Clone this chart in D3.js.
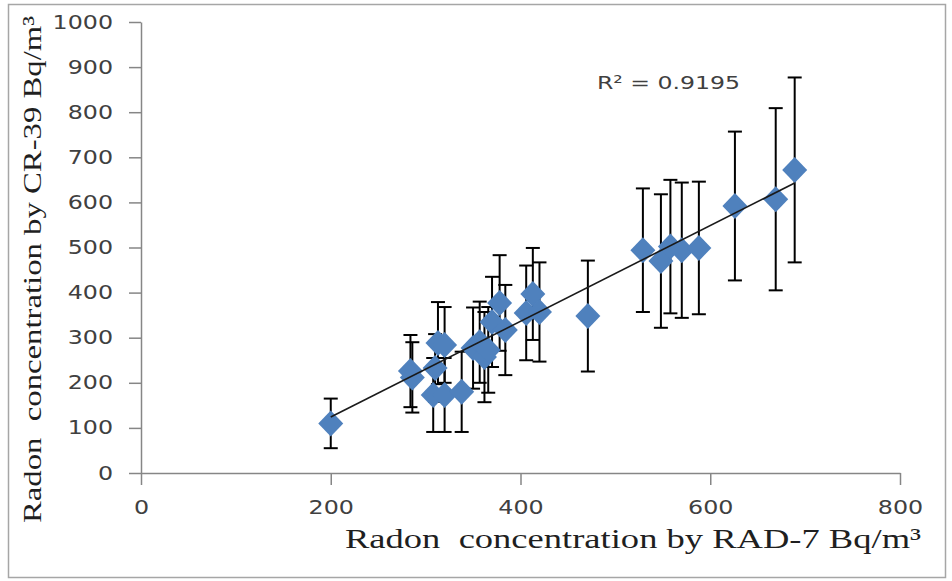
<!DOCTYPE html>
<html>
<head>
<meta charset="utf-8">
<script src="https://cdn.jsdelivr.net/npm/d3@7"></script>
<style>
  html, body { margin: 0; padding: 0; background: #ffffff; }
  svg { display: block; }
  .title { white-space: pre; }
</style>
</head>
<body>
<svg id="chart" width="952" height="581"></svg>
<script>
// ---- data ----
const rad7 = [200, 284, 286, 308, 310, 313, 320, 320, 338, 350, 357, 362, 366, 370, 378, 384, 406, 413, 420, 471, 529, 548, 558, 570, 588, 626, 669, 689];
const cr39 = [110, 226, 212, 173, 233, 288, 284, 173, 180, 277, 290, 257, 273, 335, 377, 317, 355, 397, 357, 348, 494, 470, 502, 494, 499, 592, 607, 672];
const cr39Err = [55, 80, 78, 82, 75, 91, 84, 82, 89, 90, 90, 100, 95, 100, 106, 100, 105, 102, 110, 123, 137, 148, 148, 150, 147, 165, 202, 205];
const xTicks = [0, 200, 400, 600, 800];
const yTicks = [0, 100, 200, 300, 400, 500, 600, 700, 800, 900, 1000];
const trendSlope = 1.061;
const trendIntercept = -88;
const r2Label = "R\u00B2 = 0.9195";
const xTitle = "Radon  concentration by RAD-7 Bq/m\u00B3";
const yTitle = "Radon  concentration by CR-39 Bq/m\u00B3";

const points = rad7.map((x, i) => ({ x, y: cr39[i], e: cr39Err[i] }));

const svg = d3.select("#chart");
const x = d3.scaleLinear().domain([0, 800]).range([141, 900]);
const y = d3.scaleLinear().domain([0, 1000]).range([473, 22]);

const axisColor = "#868686";
const labelColor = "#404040";
const stretch = 1.25;

// outer border
svg.append("rect")
  .attr("x", 8.5).attr("y", 4.5).attr("width", 937).attr("height", 573)
  .attr("fill", "none").attr("stroke", "#a6a6a6").attr("stroke-width", 1.5);

function styleAxis(g) {
  g.select(".domain").attr("stroke", axisColor).attr("stroke-width", 1.5);
  g.selectAll(".tick line").attr("stroke", axisColor).attr("stroke-width", 1.5);
  g.selectAll(".tick text")
    .attr("fill", labelColor)
    .style("font-family", "'DejaVu Sans', Verdana, sans-serif")
    .style("font-size", "19px")
    .each(function () {
      const len = this.getComputedTextLength();
      d3.select(this).attr("textLength", len * stretch).attr("lengthAdjust", "spacingAndGlyphs");
    });
}

// y axis
const gy = svg.append("g")
  .attr("transform", `translate(${x(0)},0)`)
  .call(d3.axisLeft(y).tickValues(yTicks).tickSize(12).tickSizeOuter(0).tickPadding(16).tickFormat(d3.format("d")));
styleAxis(gy);

// x axis
const gx = svg.append("g")
  .attr("transform", `translate(0,${y(0)})`)
  .call(d3.axisBottom(x).tickValues(xTicks).tickSize(12).tickSizeOuter(0).tickPadding(16).tickFormat(d3.format("d")));
styleAxis(gx);

// error bars
const eb = svg.append("g").attr("stroke", "#000").attr("stroke-width", 2).attr("fill", "none");
points.forEach(p => {
  const cx = x(p.x), top = y(p.y + p.e), bot = y(p.y - p.e);
  eb.append("line").attr("x1", cx).attr("x2", cx).attr("y1", top).attr("y2", bot);
  eb.append("line").attr("x1", cx - 7).attr("x2", cx + 7).attr("y1", top).attr("y2", top);
  eb.append("line").attr("x1", cx - 7).attr("x2", cx + 7).attr("y1", bot).attr("y2", bot);
});

// diamonds
const hw = 12.5, hh = 13;
svg.append("g").selectAll("path").data(points).join("path")
  .attr("d", d => `M${x(d.x)},${y(d.y) - hh}L${x(d.x) + hw},${y(d.y)}L${x(d.x)},${y(d.y) + hh}L${x(d.x) - hw},${y(d.y)}Z`)
  .attr("fill", "#4f81bd");

// trend line
const xMin = d3.min(rad7), xMax = d3.max(rad7);
svg.append("line")
  .attr("x1", x(xMin)).attr("y1", y(trendSlope * xMin + trendIntercept))
  .attr("x2", x(xMax)).attr("y2", y(trendSlope * xMax + trendIntercept))
  .attr("stroke", "#1a1a1a").attr("stroke-width", 1.6);

// R^2 label
svg.append("text")
  .attr("x", 597).attr("y", 89)
  .attr("fill", labelColor)
  .style("font-family", "'DejaVu Sans', Verdana, sans-serif")
  .style("font-size", "18px")
  .attr("textLength", 143).attr("lengthAdjust", "spacingAndGlyphs")
  .text(r2Label);

// axis titles
svg.append("text")
  .attr("class", "title")
  .attr("x", 345).attr("y", 548)
  .attr("fill", "#1f1f1f")
  .style("font-family", "'Liberation Serif', 'Times New Roman', serif")
  .style("font-size", "28px")
  .attr("textLength", 576).attr("lengthAdjust", "spacingAndGlyphs")
  .text(xTitle);

svg.append("text")
  .attr("class", "title")
  .attr("transform", "translate(41,523) rotate(-90)")
  .attr("x", 0).attr("y", 0)
  .attr("fill", "#1f1f1f")
  .style("font-family", "'Liberation Serif', 'Times New Roman', serif")
  .style("font-size", "26px")
  .attr("textLength", 507).attr("lengthAdjust", "spacingAndGlyphs")
  .text(yTitle);
</script>
</body>
</html>
